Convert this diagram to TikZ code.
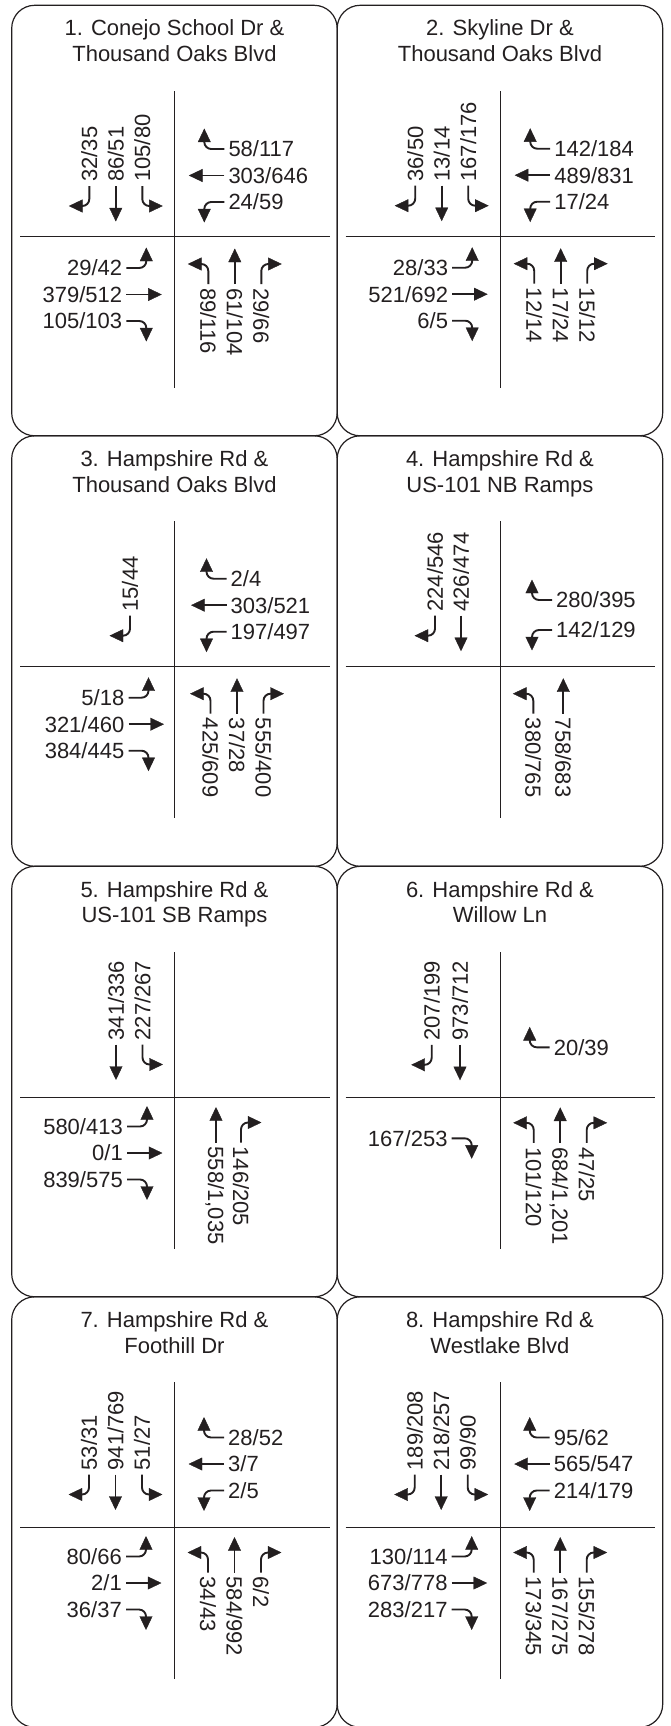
\documentclass[tikz,border=0pt]{standalone}
\usepackage{fontspec}
\setmainfont{Liberation Sans}
\definecolor{ink}{HTML}{231F20}
\tikzset{
  panel/.style={draw=ink, line width=1.2pt, rounded corners=23pt},
  road/.style={draw=ink, line width=1.2pt},
  mv/.style={draw=ink, line width=1.9pt},
  head/.style={fill=ink, draw=ink, line width=0.4pt, line join=miter},
  vol/.style={inner sep=0pt, text=ink, text height=15.8pt, text depth=0pt, font=\fontsize{22}{25}\selectfont},
  ttl/.style={inner sep=0pt, anchor=base, text=ink, font=\fontsize{22}{25}\selectfont},
  pics/mT/.style={code={\draw[mv] (0,0) -- (0,-23);
      \path[head] (0,-35) -- (-6.2,-22) -- (6.2,-22) -- cycle;}},
  pics/mR/.style={code={\draw[mv] (0,0) -- (0,-13) arc[start angle=0,end angle=-90,radius=7] -- (-8,-20);
      \path[head] (-20,-20) -- (-7,-13.8) -- (-7,-26.2) -- cycle;}},
  pics/mL/.style={code={\draw[mv] (0,0) -- (0,-13) arc[start angle=180,end angle=270,radius=7] -- (8,-20);
      \path[head] (20,-20) -- (7,-13.8) -- (7,-26.2) -- cycle;}},
}
% #1 name, #2 lane offset, #3 movement (T/L/R), #4 volume text
\newcommand\SB[4]{\node[vol,rotate=90,anchor=west] (#1) at (#2,53) {#4}; \pic at (#2,49) {m#3};}
\newcommand\NB[4]{\node[vol,rotate=-90,anchor=west] (#1) at (#2,-53) {#4}; \pic[rotate=180] at (#2,-49) {m#3};}
\newcommand\EB[4]{\node[vol,anchor=east] (#1) at (-53,#2) {#4}; \pic[rotate=90] at (-49,#2) {m#3};}
\newcommand\WB[4]{\node[vol,anchor=west] (#1) at (53,#2) {#4}; \pic[rotate=-90] at (49,#2) {m#3};}
% #1 left, #2 top (downwards), #3 name, #4 title line 1, #5 title line 2, #6 cross offset from top
\newcommand\panel[6]{%
  \draw[panel] (#1,-#2) rectangle ++(325.5,-430.5);
  \node[ttl] (#3a) at (#1+162.75,-#2-30.7) {#4};
  \node[ttl] (#3b) at (#1+162.75,-#2-56.3) {#5};
  \draw[road] (#1+163,-#2-#6+145.3) -- (#1+163,-#2-#6-151.7);
  \draw[road] (#1+163-154.5,-#2-#6) -- (#1+163+154.8,-#2-#6);
}
\begin{document}
\begin{tikzpicture}[x=1pt,y=1pt]
\useasboundingbox (0,0) rectangle (670,-1726);
\clip (0,0) rectangle (670,-1726);

\panel{11.7}{5.3}{h1}{1. Conejo School Dr \&}{Thousand Oaks Blvd}{231.2}
\panel{337.2}{5.3}{h2}{2. Skyline Dr \&}{Thousand Oaks Blvd}{231.2}
\panel{11.7}{435.8}{h3}{3. Hampshire Rd \&}{Thousand Oaks Blvd}{230.7}
\panel{337.2}{435.8}{h4}{4. Hampshire Rd \&}{US-101 NB Ramps}{230.7}
\panel{11.7}{866.3}{h5}{5. Hampshire Rd \&}{US-101 SB Ramps}{231.2}
\panel{337.2}{866.3}{h6}{6. Hampshire Rd \&}{Willow Ln}{231.2}
\panel{11.7}{1296.8}{h7}{7. Hampshire Rd \&}{Foothill Dr}{230.7}
\panel{337.2}{1296.8}{h8}{8. Hampshire Rd \&}{Westlake Blvd}{230.7}

% 1
\begin{scope}[shift={(175.3,-235)}]
\SB{a1}{-86}{R}{32/35}
\SB{a2}{-59.5}{T}{86/51}
\SB{a3}{-33}{L}{105/80}
\WB{a4}{86}{R}{58/117}
\WB{a5}{59.5}{T}{303/646}
\WB{a6}{33}{L}{24/59}
\EB{a7}{-33}{L}{29/42}
\EB{a8}{-59.5}{T}{379/512}
\EB{a9}{-86}{R}{105/103}
\NB{a10}{33}{L}{89/116}
\NB{a11}{59.5}{T}{61/104}
\NB{a12}{86}{R}{29/66}
\end{scope}
% 2
\begin{scope}[shift={(501.2,-234.7)}]
\SB{b1}{-86}{R}{36/50}
\SB{b2}{-59.5}{T}{13/14}
\SB{b3}{-33}{L}{167/176}
\WB{b4}{86}{R}{142/184}
\WB{b5}{59.5}{T}{489/831}
\WB{b6}{33}{L}{17/24}
\EB{b7}{-33}{L}{28/33}
\EB{b8}{-59.5}{T}{521/692}
\EB{b9}{-86}{R}{6/5}
\NB{b10}{33}{L}{12/14}
\NB{b11}{59.5}{T}{17/24}
\NB{b12}{86}{R}{15/12}
\end{scope}
% 3
\begin{scope}[shift={(177.5,-664.7)}]
\SB{c1}{-47.5}{R}{15/44}
\WB{c4}{86}{R}{2/4}
\WB{c5}{59.5}{T}{303/521}
\WB{c6}{33}{L}{197/497}
\EB{c7}{-33}{L}{5/18}
\EB{c8}{-59.5}{T}{321/460}
\EB{c9}{-86}{R}{384/445}
\NB{c10}{33}{L}{425/609}
\NB{c11}{59.5}{T}{37/28}
\NB{c12}{86}{R}{555/400}
\end{scope}
% 4
\begin{scope}[shift={(503,-664.7)}]
\SB{d1}{-68}{R}{224/546}
\SB{d2}{-42}{T}{426/474}
\WB{d4}{64.7}{R}{280/395}
\WB{d6}{34.7}{L}{142/129}
\NB{d10}{30.3}{L}{380/765}
\NB{d11}{60.3}{T}{758/683}
\end{scope}
% 5
\begin{scope}[shift={(176,-1093.5)}]
\SB{e2}{-60}{T}{341/336}
\SB{e3}{-33.5}{L}{227/267}
\EB{e7}{-33}{L}{580/413}
\EB{e8}{-59.5}{T}{0/1}
\EB{e9}{-86}{R}{839/575}
\NB{e11}{40}{T}{558/1,035}
\NB{e12}{65}{R}{146/205}
\end{scope}
% 6
\begin{scope}[shift={(500.7,-1093.8)}]
\SB{f1}{-69}{R}{207/199}
\SB{f2}{-40.7}{T}{973/712}
\WB{f4}{46.5}{R}{20/39}
\EB{f9}{-44.5}{R}{167/253}
\NB{f10}{33}{L}{101/120}
\NB{f11}{59.5}{T}{684/1,201}
\NB{f12}{86}{R}{47/25}
\end{scope}
% 7
\begin{scope}[shift={(175,-1523.5)}]
\SB{g1}{-86}{R}{53/31}
\SB{g2}{-59.5}{T}{941/769}
\SB{g3}{-33}{L}{51/27}
\WB{g4}{86}{R}{28/52}
\WB{g5}{59.5}{T}{3/7}
\WB{g6}{33}{L}{2/5}
\EB{g7}{-33}{L}{80/66}
\EB{g8}{-59.5}{T}{2/1}
\EB{g9}{-86}{R}{36/37}
\NB{g10}{33}{L}{34/43}
\NB{g11}{59.5}{T}{584/992}
\NB{g12}{86}{R}{6/2}
\end{scope}
% 8
\begin{scope}[shift={(500.7,-1523.5)}]
\SB{k1}{-86}{R}{189/208}
\SB{k2}{-59.5}{T}{218/257}
\SB{k3}{-33}{L}{99/90}
\WB{k4}{86}{R}{95/62}
\WB{k5}{59.5}{T}{565/547}
\WB{k6}{33}{L}{214/179}
\EB{k7}{-33}{L}{130/114}
\EB{k8}{-59.5}{T}{673/778}
\EB{k9}{-86}{R}{283/217}
\NB{k10}{33}{L}{173/345}
\NB{k11}{59.5}{T}{167/275}
\NB{k12}{86}{R}{155/278}
\end{scope}
\end{tikzpicture}
\end{document}
